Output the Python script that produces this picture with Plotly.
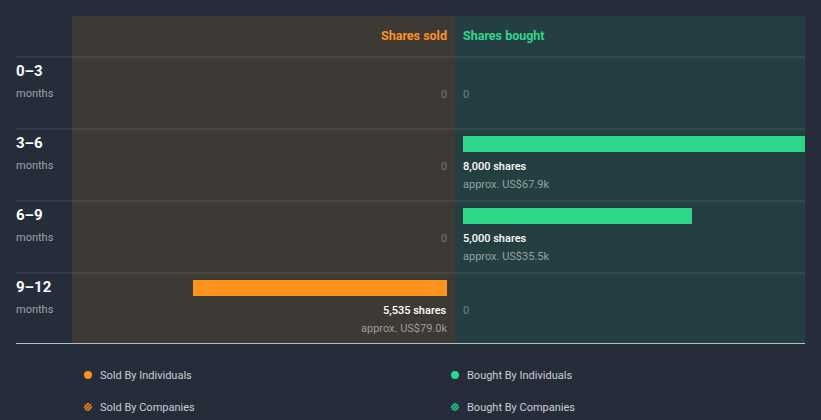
import math
import plotly.graph_objects as go

periods = ["0–3", "3–6", "6–9", "9–12"]
period_unit = ["months", "months", "months", "months"]
sold_shares = [0, 0, 0, 5535]
sold_value = ["", "", "", "US$79.0k"]
bought_shares = [0, 8000, 5000, 0]
bought_value = ["", "US$67.9k", "US$35.5k", ""]
legend_labels = ["Sold By Individuals", "Sold By Companies", "Bought By Individuals", "Bought By Companies"]

W, H = 821, 420
BG = "#262d3a"
SOLD_BG = "#3d3935"
BOUGHT_BG = "#253e41"
ORANGE = "#ff931e"
GREEN = "#2dd78a"
FONT = "Roboto"

def px(x):
    return x / W

row_top = [57 + 72 * i for i in range(len(periods))]
bar_center = [t + 15 for t in row_top]

fig = go.Figure()
fig.add_trace(go.Bar(orientation="h", x=sold_shares, y=bar_center, width=16,
                     marker=dict(color=ORANGE, line=dict(width=0)),
                     xaxis="x", yaxis="y", hoverinfo="skip", showlegend=False))
fig.add_trace(go.Bar(orientation="h", x=bought_shares, y=bar_center, width=16,
                     marker=dict(color=GREEN, line=dict(width=0)),
                     xaxis="x2", yaxis="y", hoverinfo="skip", showlegend=False))

shapes = []
shapes.append(dict(type="rect", xref="paper", yref="y", x0=px(72), x1=px(455), y0=16, y1=343,
                   fillcolor=SOLD_BG, line=dict(width=0), layer="below"))
shapes.append(dict(type="rect", xref="paper", yref="y", x0=px(455), x1=px(805), y0=16, y1=343,
                   fillcolor=BOUGHT_BG, line=dict(width=0), layer="below"))
for t in row_top:
    shapes.append(dict(type="line", xref="paper", yref="y", x0=px(16), x1=px(805), y0=t, y1=t,
                       line=dict(color="rgba(255,255,255,0.13)", width=1), layer="below"))
shapes.append(dict(type="line", xref="paper", yref="y", x0=px(16), x1=px(805), y0=343.5, y1=343.5,
                   line=dict(color="#b4bcc4", width=1), layer="above"))

annotations = []
annotations.append(dict(text="<b>Shares sold</b>", xref="paper", yref="y", x=px(449), y=35,
                        xanchor="right", yanchor="middle", showarrow=False,
                        font=dict(family=FONT, size=12.5, color=ORANGE)))
annotations.append(dict(text="<b>Shares bought</b>", xref="paper", yref="y", x=px(461), y=35,
                        xanchor="left", yanchor="middle", showarrow=False,
                        font=dict(family=FONT, size=12.5, color=GREEN)))

SHIFT = 2
for i, p in enumerate(periods):
    t = row_top[i]
    annotations.append(dict(text="<b>" + p + "</b>", xref="paper", yref="y", x=px(14), y=t + 14,
                            xanchor="left", yanchor="middle", showarrow=False,
                            font=dict(family=FONT, size=15, color="#ffffff")))
    annotations.append(dict(text=period_unit[i], xref="paper", yref="y", x=px(14), y=t + 36,
                            xanchor="left", yanchor="middle", showarrow=False,
                            font=dict(family=FONT, size=11, color="#9aa0a8")))
    if sold_shares[i] > 0:
        annotations.append(dict(text=f"{sold_shares[i]:,} shares", xref="x", yref="y", x=0, y=t + 37,
                                xanchor="right", yanchor="middle", showarrow=False, xshift=SHIFT,
                                font=dict(family=FONT, size=11, color="#ffffff", weight=500)))
        annotations.append(dict(text="approx. " + sold_value[i], xref="x", yref="y", x=0, y=t + 55,
                                xanchor="right", yanchor="middle", showarrow=False, xshift=SHIFT,
                                font=dict(family=FONT, size=11, color="#a09c98")))
    else:
        annotations.append(dict(text="0", xref="x", yref="y", x=0, y=t + 37,
                                xanchor="right", yanchor="middle", showarrow=False, xshift=SHIFT,
                                font=dict(family=FONT, size=11, color="#77736f")))
    if bought_shares[i] > 0:
        annotations.append(dict(text=f"{bought_shares[i]:,} shares", xref="x2", yref="y", x=0, y=t + 37,
                                xanchor="left", yanchor="middle", showarrow=False, xshift=-SHIFT,
                                font=dict(family=FONT, size=11, color="#ffffff", weight=500)))
        annotations.append(dict(text="approx. " + bought_value[i], xref="x2", yref="y", x=0, y=t + 55,
                                xanchor="left", yanchor="middle", showarrow=False, xshift=-SHIFT,
                                font=dict(family=FONT, size=11, color="#93a3a5")))
    else:
        annotations.append(dict(text="0", xref="x2", yref="y", x=0, y=t + 37,
                                xanchor="left", yanchor="middle", showarrow=False, xshift=-SHIFT,
                                font=dict(family=FONT, size=11, color="#6f8385")))

legend_pos = [(88, 375, ORANGE, False), (88, 407, ORANGE, True), (455, 375, GREEN, False), (455, 407, GREEN, True)]
dim = {ORANGE: "rgba(255,147,30,0.28)", GREEN: "rgba(45,215,138,0.28)"}
for (cx, cy, col, hatched), lab in zip(legend_pos, legend_labels):
    r = 4
    if hatched:
        shapes.append(dict(type="circle", xref="paper", yref="y", x0=px(cx - r), x1=px(cx + r),
                           y0=cy - r, y1=cy + r, fillcolor=dim[col], line=dict(width=0)))
        for d in (-2.3, 0, 2.3):
            half = math.sqrt(max(r * r - d * d, 0)) / math.sqrt(2)
            ox, oy = d / math.sqrt(2), d / math.sqrt(2)
            shapes.append(dict(type="line", xref="paper", yref="y",
                               x0=px(cx + ox - half), x1=px(cx + ox + half),
                               y0=cy + oy + half, y1=cy + oy - half,
                               line=dict(color=col, width=1.2)))
    else:
        shapes.append(dict(type="circle", xref="paper", yref="y", x0=px(cx - r), x1=px(cx + r),
                           y0=cy - r, y1=cy + r, fillcolor=col, line=dict(width=0)))
    annotations.append(dict(text=lab, xref="paper", yref="y", x=px(cx + 10), y=cy,
                            xanchor="left", yanchor="middle", showarrow=False,
                            font=dict(family=FONT, size=11, color="#c9ced4")))

scale = 45.85 / 1000.0
fig.update_layout(
    width=W, height=H,
    margin=dict(l=0, r=0, t=0, b=0),
    paper_bgcolor=BG, plot_bgcolor="rgba(0,0,0,0)",
    bargap=0,
    xaxis=dict(domain=[px(72), px(447)], range=[(447 - 72) / scale, 0], visible=False,
               fixedrange=True, anchor="y"),
    xaxis2=dict(domain=[px(463), px(805)], range=[0, (805 - 463) / scale], visible=False,
                fixedrange=True, anchor="y"),
    yaxis=dict(domain=[0, 1], range=[H, 0], visible=False, fixedrange=True),
    shapes=shapes, annotations=annotations,
    showlegend=False,
)

fig.write_html("out.html", config={"displayModeBar": False})
